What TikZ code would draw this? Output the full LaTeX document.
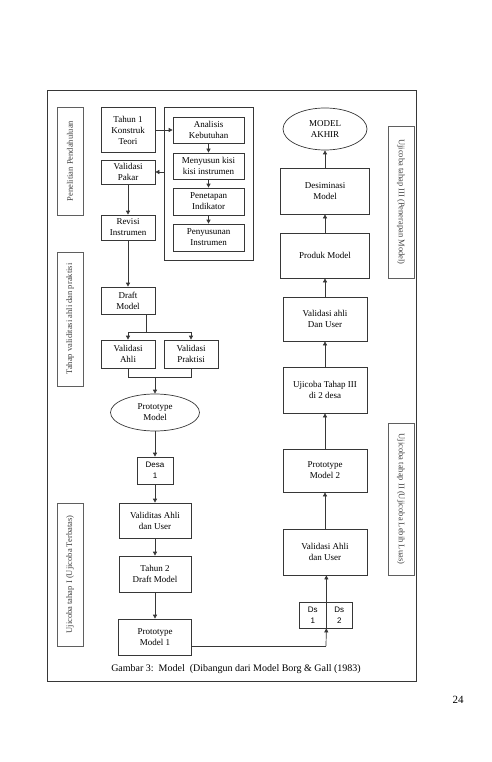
\documentclass[tikz,border=0pt]{standalone}
\usepackage{fontspec}
\setmainfont{Liberation Serif}
\newfontfamily\sansfont{Liberation Sans}
\usetikzlibrary{arrows.meta, positioning, shapes.geometric, calc}
\definecolor{garis}{RGB}{55,55,55}

\begin{document}
\begin{tikzpicture}[
    x=1pt, y=-1pt,
    box/.style={draw=garis, line width=0.7pt, minimum width=54pt, align=center,
                font=\fontsize{9}{11}\selectfont, inner sep=1pt},
    oval/.style={box, ellipse},
    tahap/.style={draw=garis!80, line width=0.7pt, inner sep=1pt,
                  font=\fontsize{8.5}{10}\selectfont, text=black!75},
    arr/.style={-{Triangle[length=4pt, width=4pt]}, line width=0.7pt, garis}
]
    \useasboundingbox (0,0) rectangle (491,762);
    \draw[garis, line width=0.9pt] (47,90) rectangle (416,681);

    % label tahapan
    \node[tahap, minimum width=108pt, minimum height=26pt, rotate=90] (tahap1) at (70,161) {Penelitian Pendahuluan};
    \node[tahap, minimum width=134pt, minimum height=26pt, rotate=90] (tahap2) at (70,319) {Tahap validitasi ahli dan praktisi};
    \node[tahap, minimum width=143pt, minimum height=26pt, rotate=90] (tahap3) at (70,574.5) {Ujicoba tahap I (Ujicoba Terbatas)};
    \node[tahap, minimum width=152pt, minimum height=26pt, rotate=-90] (tahap4) at (401,202) {Ujicoba tahap III (Penerapan Model)};
    \node[tahap, minimum width=152pt, minimum height=26pt, rotate=-90] (tahap5) at (401,499) {Ujicoba tahap II (Ujicoba Lebih Luas)};

    % tahun 1
    \node[box, minimum height=45pt] (konstruk) at (128,130) {Tahun 1\\Konstruk\\Teori};
    \node[box, minimum height=24pt] (pakar) at (128,172) {Validasi\\Pakar};
    \node[box, minimum height=25pt] (revisi) at (128,227.5) {Revisi\\Instrumen};
    \node[box, minimum width=89pt, minimum height=153pt] (wadah) at (208.5,183.5) {};
    \node[box, minimum width=71pt, minimum height=26pt] (analisis) at (208.5,130) {Analisis\\Kebutuhan};
    \node[box, minimum width=71pt, minimum height=26pt] (kisi) at (208.5,166) {Menyusun kisi\\kisi instrumen};
    \node[box, minimum width=71pt, minimum height=27pt] (indikator) at (208.5,201.5) {Penetapan\\Indikator};
    \node[box, minimum width=71pt, minimum height=27pt] (penyusunan) at (208.5,237.5) {Penyusunan\\Instrumen};

    \draw[arr] (konstruk) -- (analisis);
    \draw[arr] (analisis) -- (kisi);
    \draw[arr] (kisi) -- (indikator);
    \draw[arr] (indikator) -- (penyusunan);
    \draw[arr] (wadah.west |- pakar) -- (pakar);
    \draw[arr] (pakar) -- (revisi);

    % validasi
    \node[box, minimum height=27pt] (draft) at (128,300.5) {Draft\\Model};
    \node[box, minimum height=28pt] (ahli) at (128,354) {Validasi\\Ahli};
    \node[box, minimum height=28pt] (praktisi) at (191,354) {Validasi\\Praktisi};
    \node[oval, minimum width=89pt, minimum height=37pt] (proto) at (155,412.5) {Prototype\\Model};
    \coordinate (cabang) at (146,332);
    \coordinate (gabung) at (155,377);

    \draw[arr] (revisi) -- (draft);
    \draw[garis, line width=0.7pt] (draft.south -| cabang) -- (cabang);
    \draw[arr] (cabang) -| (ahli);
    \draw[arr] (cabang) -| (praktisi);
    \draw[garis, line width=0.7pt] (ahli.south) |- (gabung);
    \draw[garis, line width=0.7pt] (praktisi.south) |- (gabung);
    \draw[arr] (gabung) -- (proto);

    % ujicoba terbatas
    \node[box, minimum width=36pt, minimum height=27pt, font=\sansfont\fontsize{8}{11}\selectfont] (desa) at (155,470.5) {Desa\\1};
    \node[box, minimum width=72pt, minimum height=35pt] (validitas) at (155,520.5) {Validitas Ahli\\dan User};
    \node[box, minimum width=72pt, minimum height=36pt] (tahun2) at (155,574) {Tahun 2\\Draft Model};
    \node[box, minimum width=73pt, minimum height=36pt] (proto1) at (155,637) {Prototype\\Model 1};

    \draw[arr] (proto) -- (desa);
    \draw[arr] (desa) -- (validitas);
    \draw[arr] (validitas) -- (tahun2);
    \draw[arr] (tahun2) -- (proto1);

    % kolom kanan
    \node[oval, minimum width=84pt, minimum height=42pt] (akhir) at (325,129) {MODEL\\AKHIR};
    \node[box, minimum width=89pt, minimum height=46pt] (desiminasi) at (325,191) {Desiminasi\\Model};
    \node[box, minimum width=89pt, minimum height=45pt] (produk) at (325,255.5) {Produk Model};
    \node[box, minimum width=84pt, minimum height=44pt] (valuser) at (325,319) {Validasi ahli\\Dan User};
    \node[box, minimum width=84pt, minimum height=46pt] (ujicoba3) at (325,390) {Ujicoba Tahap III\\di 2 desa};
    \node[box, minimum width=84pt, minimum height=43pt] (proto2) at (325,470.5) {Prototype\\Model 2};
    \node[box, minimum width=84pt, minimum height=46pt] (valuser2) at (325,552) {Validasi Ahli\\dan User};
    \node[box, minimum width=26.5pt, minimum height=26pt, font=\sansfont\fontsize{8}{11}\selectfont] (ds1) at (312.75,615) {Ds\\1};
    \node[box, minimum width=26.5pt, minimum height=26pt, font=\sansfont\fontsize{8}{11}\selectfont] (ds2) at (339.25,615) {Ds\\2};

    \draw[arr] (desiminasi) -- (akhir);
    \draw[arr] (produk) -- (desiminasi);
    \draw[arr] (valuser) -- (produk);
    \draw[arr] (ujicoba3) -- (valuser);
    \draw[arr] (proto2) -- (ujicoba3);
    \draw[arr] (valuser2) -- (proto2);

    \coordinate (keluar) at (192,646);
    \coordinate (belok) at (326,646);
    \draw[garis, line width=0.7pt] (keluar) -- (belok);
    \draw[arr] (belok) -- (ds1.south east);
    \draw[arr] (ds1.north east) -- (valuser2.south -| ds1.north east);

    \node[font=\fontsize{10}{12}\selectfont] (judul) at (236,669) {Gambar 3:\ \ Model\ \ (Dibangun dari Model Borg \& Gall (1983)};
    \node[font=\fontsize{11}{13}\selectfont] (halaman) at (458,700) {24};
\end{tikzpicture}
\end{document}
